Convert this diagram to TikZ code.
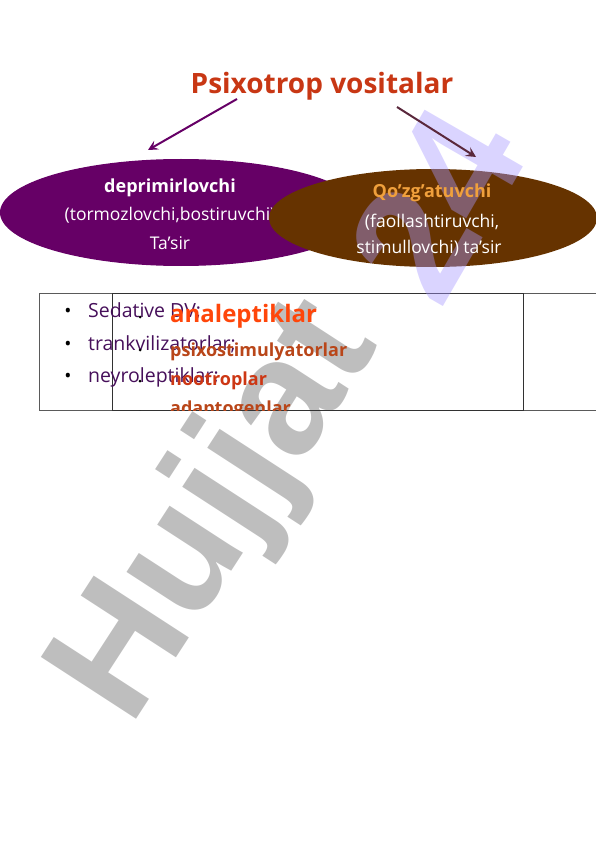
\documentclass[tikz,border=0pt]{standalone}
\usepackage{fontspec}
\setmainfont{Open Sans}
\newfontfamily\wmfont{Liberation Sans}
\usetikzlibrary{arrows.meta,shapes.geometric}
\definecolor{titlecol}{RGB}{200,55,20}
\definecolor{deprcol}{RGB}{102,0,102}
\definecolor{qozcol}{RGB}{102,51,0}
\definecolor{qoztxt}{RGB}{240,160,60}
\definecolor{arrowL}{RGB}{102,0,102}
\definecolor{arrowR}{RGB}{90,40,60}
\definecolor{listL}{RGB}{70,15,90}
\definecolor{anacol}{RGB}{255,70,10}
\definecolor{psxcol}{RGB}{185,70,25}
\definecolor{nootcol}{RGB}{205,55,20}
\definecolor{wmgray}{RGB}{190,190,190}
\definecolor{wmlav}{RGB}{167,152,255}
\definecolor{framecol}{RGB}{90,90,90}
\definecolor{innercol}{RGB}{50,50,50}
\tikzset{
  wmtext/.style={font=\wmfont\bfseries\fontsize{165}{165}\selectfont, inner sep=0pt, anchor=base west, rotate=57},
  ovalbox/.style={ellipse, inner sep=0pt, draw=none},
  ovaltext/.style={text=white, font=\fontsize{17.5}{21}\selectfont, inner sep=0pt, anchor=base},
  ovalhead/.style={font=\bfseries\fontsize{18}{21}\selectfont, inner sep=0pt, anchor=base},
  linkarrow/.style={line width=2pt, -{Stealth[length=10pt,width=10pt,inset=4pt]}},
  leftitem/.style={text=listL, font=\fontsize{19.5}{22}\selectfont, inner sep=0pt, anchor=base west},
  leftbullet/.style={font=\fontsize{19}{22}\selectfont, inner sep=0pt, anchor=base},
  rightitem/.style={font=\bfseries\fontsize{18}{22}\selectfont, inner sep=0pt, anchor=base west},
  rdot/.style={circle, fill=black, inner sep=0pt, minimum size=3pt}
}
\begin{document}
\begin{tikzpicture}[x=1pt,y=-1pt]
\useasboundingbox (0,0) rectangle (596,842);
% watermark (grey part, behind)
\node[wmtext, text=wmgray] (wmH) at (130,729) {Hujjat};

% table frame
\coordinate (tTL) at (39,293);
\coordinate (tBL) at (39,410);
\coordinate (tTR) at (596,293);
\coordinate (tBR) at (596,410);
\draw[framecol, line width=1pt] (tTR) -- (tTL) -- (tBL) -- (tBR);
\node[draw=innercol, line width=1.2pt, minimum width=411pt, minimum height=117pt, inner sep=0pt, anchor=north west] (inner) at (112,293) {};

% left list
\node[leftbullet] (lb1) at (68,317) {•};
\node[leftbullet] (lb2) at (68,350) {•};
\node[leftbullet] (lb3) at (68,382) {•};
\node[leftitem] (l1) at (88,317) {Sedative DV;};
\node[leftitem] (l2) at (88,350) {trankvilizatorlar;};
\node[leftitem] (l3) at (88,382) {neyroleptiklar;};

% right list (clipped by the inner box)
\begin{scope}
\clip (112,293) rectangle (523,410);
\node[rdot] (rb1) at (140,317) {};
\node[rdot] (rb2) at (140,350) {};
\node[rdot] (rb3) at (140,381) {};
\node[rdot] (rb4) at (140,412) {};
\node[rightitem, text=anacol, font=\bfseries\fontsize{24}{28}\selectfont] (r1) at (170,322) {analeptiklar};
\node[rightitem, text=psxcol] (r2) at (170,356) {psixostimulyatorlar};
\node[rightitem, text=nootcol] (r3) at (170,385) {nootroplar};
\node[rightitem, text=psxcol] (r4) at (170,414) {adaptogenlar};
\end{scope}

% ellipses
\node[ovalbox, fill=deprcol, minimum width=362pt, minimum height=107pt] (depr) at (181,212.5) {};
\node[ovalhead, text=white] (deprT) at (170,193) {deprimirlovchi};
\node[ovaltext] (deprA) at (170,221) {(tormozlovchi,bostiruvchi)};
\node[ovaltext] (deprB) at (170,249) {Ta’sir};

\node[ovalbox, fill=qozcol, minimum width=328pt, minimum height=98pt] (qoz) at (433,218) {};
% watermark (lavender part, translucent)
\node[wmtext, text=wmlav, opacity=0.42, rotate=3] (wm24) at (440,312) {24};
\node[ovalhead, text=qoztxt] (qozT) at (432,198) {Qo’zg’atuvchi};
\node[ovaltext] (qozA) at (432,227) {(faollashtiruvchi,};
\node[ovaltext] (qozB) at (429,253) {stimullovchi) ta’sir};

% title and arrows
\node[text=titlecol, font=\bfseries\fontsize{28}{33}\selectfont, inner sep=0pt] (title) at (322,86) {Psixotrop vositalar};
\coordinate (aLs) at (237,99);
\coordinate (aLe) at (148,150);
\coordinate (aRs) at (397,107);
\coordinate (aRe) at (476,157);
\draw[linkarrow, arrowL] (aLs) -- (aLe);
\draw[linkarrow, arrowR] (aRs) -- (aRe);
\end{tikzpicture}
\end{document}
